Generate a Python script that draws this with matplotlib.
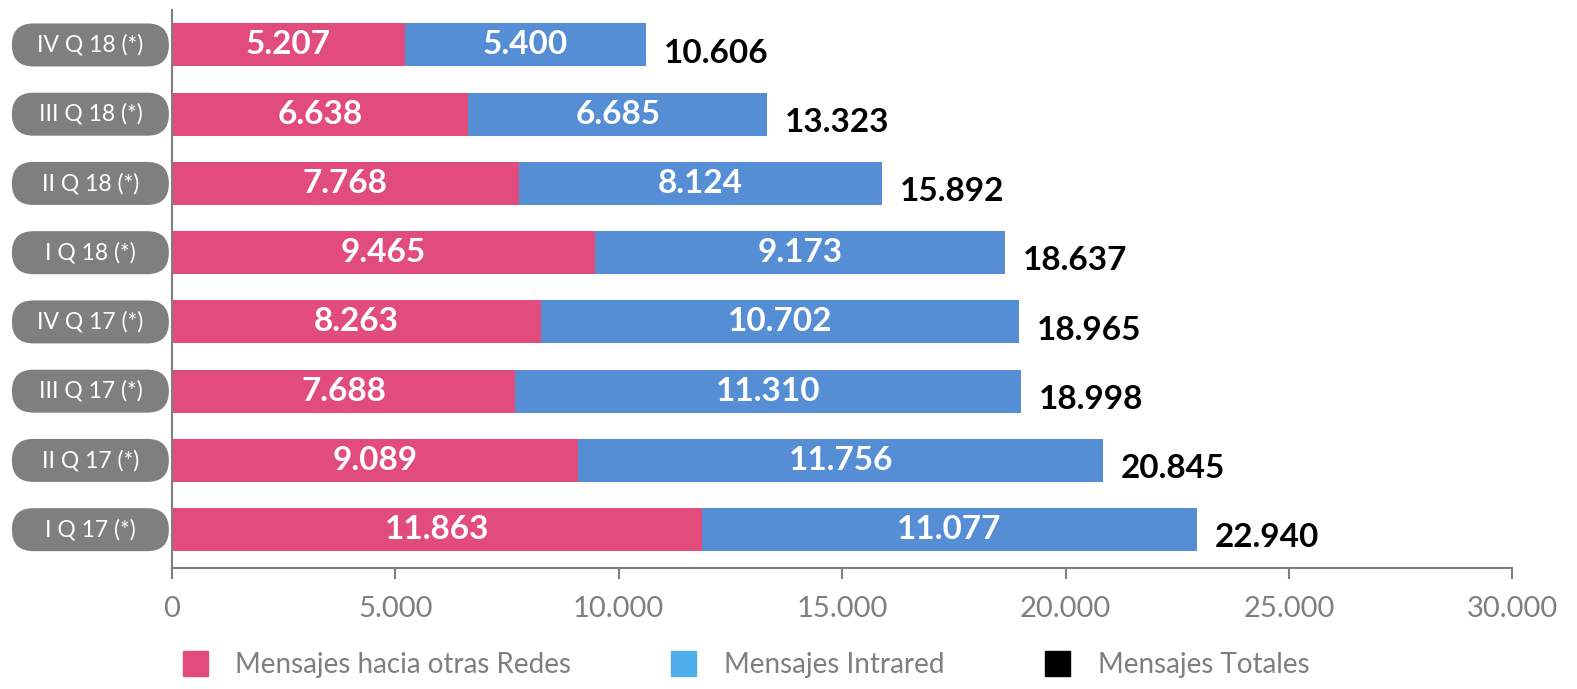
import matplotlib.pyplot as plt
import matplotlib.transforms as mtransforms
from matplotlib.patches import FancyBboxPatch, Patch

plt.rcParams['font.family'] = ['Lato', 'DejaVu Sans']

periods = ['IV Q 18', 'III Q 18', 'II Q 18', 'I Q 18',
           'IV Q 17', 'III Q 17', 'II Q 17', 'I Q 17']
otras_redes = [5207, 6638, 7768, 9465, 8263, 7688, 9089, 11863]
intrared = [5400, 6685, 8124, 9173, 10702, 11310, 11756, 11077]
totales = [10606, 13323, 15892, 18637, 18965, 18998, 20845, 22940]

pink = '#e24c7c'
blue = '#558ed5'
grey = '#7f7f7f'


def fmt(v):
    return f'{v:,}'.replace(',', '.')


fig = plt.figure(figsize=(15.77, 6.89), dpi=100)
ax = fig.add_axes([0.109, 0.176, 0.850, 0.809])

y = list(range(len(periods)))
ax.barh(y, otras_redes, height=0.62, color=pink)
ax.barh(y, intrared, left=otras_redes, height=0.62, color=blue)

for i in y:
    ax.text(otras_redes[i] / 2, i, fmt(otras_redes[i]), color='white',
            fontsize=24, fontweight='bold', ha='center', va='center')
    ax.text(otras_redes[i] + intrared[i] / 2, i, fmt(intrared[i]),
            color='white', fontsize=24, fontweight='bold',
            ha='center', va='center')
    ax.text(totales[i] + 400, i + 0.12, fmt(totales[i]), color='black',
            fontsize=24, fontweight='bold', ha='left', va='center')

# grey pill labels on the left
blend = mtransforms.blended_transform_factory(ax.transAxes, ax.transData)
for i, name in enumerate(periods):
    tr = fig.dpi_scale_trans + mtransforms.ScaledTranslation(0, i, blend)
    pill = FancyBboxPatch((-1.60, -0.215), 1.57, 0.43,
                          boxstyle='round,pad=0,rounding_size=0.215',
                          fc=grey, ec='none', transform=tr, clip_on=False)
    ax.add_patch(pill)
    ax.text(-0.815, 0, name + ' (*)', color='white', fontsize=16.5,
            ha='center', va='center', transform=tr, clip_on=False)

ax.set_xlim(0, 30000)
ax.set_ylim(7.55, -0.5)
ax.set_yticks([])
ax.set_xticks(range(0, 30001, 5000))
ax.set_xticklabels([fmt(v) for v in range(0, 30001, 5000)])
ax.tick_params(axis='x', colors=grey, labelsize=21, length=8, width=1.5, pad=12)
for s in ['top', 'right']:
    ax.spines[s].set_visible(False)
ax.spines['left'].set_color(grey)
ax.spines['bottom'].set_color(grey)
ax.spines['left'].set_linewidth(1.5)
ax.spines['bottom'].set_linewidth(1.5)

handles = [Patch(color=pink), Patch(color='#4daeea'), Patch(color='black')]
leg = fig.legend(handles, ['Mensajes hacia otras Redes', 'Mensajes Intrared',
                           'Mensajes Totales'],
                 loc='center left', bbox_to_anchor=(0.100, 0.035), ncol=3,
                 frameon=False, fontsize=20, handlelength=0.9, handleheight=1.0,
                 columnspacing=3.6, handletextpad=1.0)
for t in leg.get_texts():
    t.set_color(grey)

fig.savefig('out.png', dpi=100)
